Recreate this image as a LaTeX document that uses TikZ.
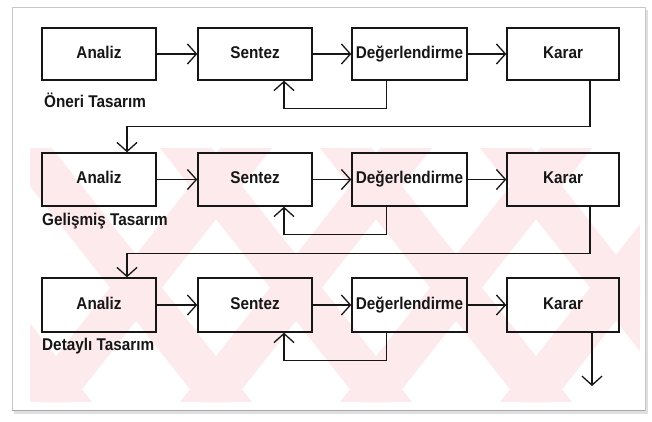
\documentclass[tikz,border=0pt]{standalone}
\usepackage{fontspec}
\setmainfont{Liberation Sans}[FakeStretch=0.9]
\usetikzlibrary{arrows.meta,calc}
\definecolor{wm}{RGB}{253,234,236}
\definecolor{ink}{RGB}{22,22,22}
\begin{document}
\begin{tikzpicture}[x=1pt,y=-1pt,
  box/.style={draw=ink,line width=1.4pt,minimum width=114pt,minimum height=52pt,inner sep=0pt,
    text height=12pt,text depth=3.5pt,
    font=\fontsize{17}{20}\selectfont\bfseries,text=ink},
  lbl/.style={anchor=west,inner sep=0pt,font=\fontsize{17}{20}\selectfont\bfseries,text=ink},
  arr/.style={draw=ink,line width=1.3pt,-{Straight Barb[length=9pt,width=20pt,line width=1.3pt]}},
  ln/.style={draw=ink,line width=1.3pt}]
\useasboundingbox (0,0) rectangle (652,421);
% paper
\fill[white] (0,0) rectangle (652,421);
\fill[gray!25] (14,10) rectangle (648,414);
\fill[white] (12,7) rectangle (645,410);
\draw[gray!45,line width=0.8pt] (12,7) rectangle (645,410);
\draw[gray!70,line width=1.6pt] (12,410.5) -- (645,410.5);
% watermark
\begin{scope}
\clip (30,148) rectangle (640,402);
\foreach \x in {-160,0,160,320,480}
  \fill[wm] (\x,148) -- ++(52,0) -- ++(200,254) -- ++(-52,0) -- cycle;
\foreach \x in {20,180,340,500}
  \fill[wm] (\x,402) -- ++(52,0) -- ++(200,-254) -- ++(-52,0) -- cycle;
\end{scope}
% row 1
\node[box] (a1) at (99,54) {Analiz};
\node[box] (s1) at (255,54) {Sentez};
\node[box,minimum width=115pt] (d1) at (409.5,54) {Değerlendirme};
\node[box,minimum width=112pt] (k1) at (563,54) {Karar};
\node[lbl] (l1) at (44,100) {Öneri Tasarım};
% row 2
\node[box,minimum height=53pt] (a2) at (99,179.5) {Analiz};
\node[box,minimum height=53pt] (s2) at (255,179.5) {Sentez};
\node[box,minimum width=115pt,minimum height=53pt] (d2) at (409.5,179.5) {Değerlendirme};
\node[box,minimum width=112pt,minimum height=53pt] (k2) at (563,179.5) {Karar};
\node[lbl] (l2) at (42,221) {Gelişmiş Tasarım};
% row 3
\node[box,minimum height=54pt] (a3) at (99,305) {Analiz};
\node[box,minimum height=54pt] (s3) at (255,305) {Sentez};
\node[box,minimum width=115pt,minimum height=54pt] (d3) at (409.5,305) {Değerlendirme};
\node[box,minimum width=112pt,minimum height=54pt] (k3) at (563,305) {Karar};
\node[lbl] (l3) at (42,346) {Detaylı Tasarım};
% connectors
\foreach \r in {1,2,3}{
  \draw[arr] (a\r) -- (s\r);
  \draw[arr] (s\r) -- (d\r);
  \draw[arr] (d\r) -- (k\r);
  \draw[arr] ([xshift=-23pt]d\r.south) -- ++(0,28) -| ([xshift=29pt]s\r.south);
}
\draw[arr] ([xshift=27pt]k1.south) -- ++(0,46) -| ([xshift=28pt]a2.north);
\draw[arr] ([xshift=27pt]k2.south) -- ++(0,47) -| ([xshift=28pt]a3.north);
\coordinate (end) at (592,386);
\draw[arr] (k3.south -| end) -- (end);
\end{tikzpicture}
\end{document}
